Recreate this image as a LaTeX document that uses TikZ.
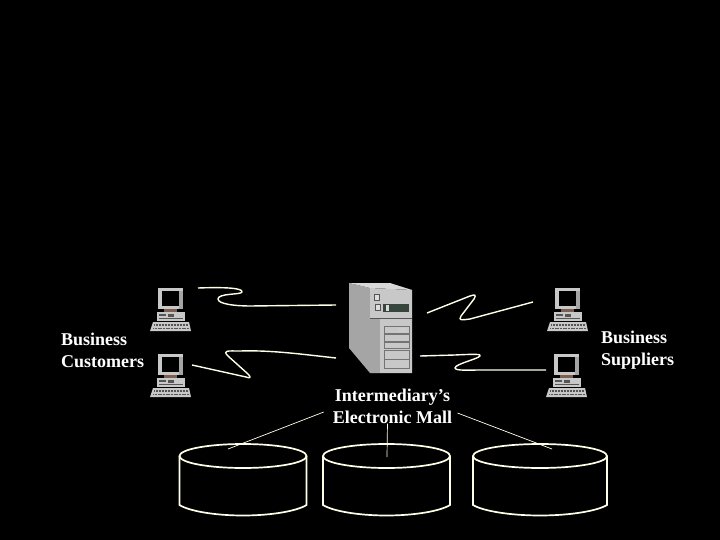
\documentclass[tikz,border=0pt]{standalone}
\usepackage{fontspec}
\setmainfont{Liberation Serif}
\usetikzlibrary{positioning,calc}

\definecolor{cream}{RGB}{255,255,232}
\definecolor{casegray}{RGB}{200,200,200}
\definecolor{sidegray}{RGB}{165,165,165}
\definecolor{darkgray}{RGB}{85,85,85}
\definecolor{standbrown}{RGB}{125,95,80}
\definecolor{paneldark}{RGB}{55,70,60}

\tikzset{
  pics/pcicon/.style={code={
    \fill[casegray] (0,0) rectangle (25,21);
    \fill[black] (4,3) rectangle (21,18);
    \fill[sidegray] (21,3) rectangle (25,21);
    \fill[standbrown] (6,21) rectangle (19,24);
    \fill[casegray] (-1,24) rectangle (27,33);
    \fill[darkgray] (1,26) rectangle (8,28);
    \fill[darkgray] (10,26) rectangle (16,29);
    \fill[darkgray] (1,30) rectangle (25,31);
    \fill[casegray] (-5,34) -- (31,34) -- (33,43) -- (-8,43) -- cycle;
    \draw[darkgray,line width=1.8pt,dash pattern=on 1pt off .5pt] (-4,37) -- (30,37);
    \draw[darkgray,line width=1.8pt,dash pattern=on 1.2pt off .4pt] (-5,40.5) -- (31,40.5);
  }},
  pics/drum/.style={code={
    \draw[rim] (0,0) ellipse ({#1} and 12);
    \draw[rim] (-#1,0) -- (-#1,49) .. controls ({-.85*#1},55) and ({-.45*#1},59.5) .. (0,59.5)
      .. controls ({.45*#1},59.5) and ({.85*#1},55) .. (#1,49) -- (#1,0);
  }},
  pics/tower/.style={code={
    \fill[sidegray] (0,0) -- (21,5) -- (21,90) -- (0,65) -- cycle;
    \fill[casegray!70!white] (0,0) -- (41,0) -- (63,7) -- (21,5) -- cycle;
    \fill[casegray] (21,5) -- (63,7) -- (63,90) -- (21,90) -- cycle;
    \fill[sidegray] (21,35) rectangle (31,90);
    \fill[paneldark] (34,21) rectangle (60,29);
    \fill[white!85!black] (37,22) rectangle (40,28);
    \draw[darkgray,fill=casegray!60!white] (25,11) rectangle (30,17);
    \draw[darkgray,fill=casegray!60!white] (26,21) rectangle (31,27);
    \draw[darkgray] (21,35) -- (63,35);
    \foreach \y/\h in {43/7,51/7,59/6,67/9,76/9}
      \draw[sidegray!70!black] (35,\y) rectangle (60,\y+\h);
    \fill[white!80!black] (49,45) rectangle (58,49);
  }}
}

\begin{document}
\begin{tikzpicture}[x=1pt,y=-1pt]
  \tikzstyle{rim}=[draw=cream,line width=1.7pt]
  \tikzstyle{wire}=[draw=cream,line width=1.4pt,line join=round]
  \tikzstyle{leader}=[draw=cream,line width=.7pt]
  \tikzstyle{label}=[text=white,font=\bfseries\fontsize{18}{22}\selectfont,align=left,inner sep=0pt]

  \fill[black] (0,0) rectangle (720,540);
  \useasboundingbox (0,0) rectangle (720,540);

  \pic (pcCustA) at (158,288) {pcicon};
  \pic (pcCustB) at (158,354) {pcicon};
  \pic (pcSuppA) at (555,288) {pcicon};
  \pic (pcSuppB) at (554,354) {pcicon};
  \pic (server) at (349,283) {tower};

  \node[label,anchor=west] (cust) at (61,350.5) {Business\\Customers};
  \node[label,anchor=west] (supp) at (601,350) {Business\\Suppliers};
  \node[label,align=center,inner xsep=9pt] (mall) at (392.5,406) {Intermediary’s\\Electronic Mall};

  \pic (drumA) at (243,456) {drum=63.5};
  \pic (drumB) at (386.5,456) {drum=63.5};
  \pic (drumC) at (540,456) {drum=67};

  % free ends of the wires
  \coordinate (custAend) at (198,288);
  \coordinate (custBend) at (192,365);
  \coordinate (suppAend) at (533,302);
  \coordinate (suppBend) at (546,370);
  \coordinate (servA) at (336,305);
  \coordinate (servB) at (336,358);
  \coordinate (servC) at (427,313);
  \coordinate (servD) at (420,356);
  \coordinate (topA) at (228,449);
  \coordinate (topB) at (387,457);
  \coordinate (topC) at (552,449);

  \draw[wire] (custAend) .. controls (225,287) and (243,288) .. (242,292)
    .. controls (241,295) and (218,293) .. (218,299)
    .. controls (218,304) and (235,306) .. (250,306) -- (servA);
  \draw[wire] (custBend) -- (246,377) .. controls (251,379) and (251,377) .. (248,374)
    -- (228,356) .. controls (222,350) and (228,351) .. (240,351)
    .. controls (270,350) and (300,354) .. (servB);
  \draw[wire] (servC) -- (470,296) .. controls (476,294) and (476,295) .. (474,299)
    -- (461,316) .. controls (458,321) and (462,320) .. (470,319) -- (suppAend);
  \draw[wire] (servD) -- (455,355) .. controls (475,354) and (482,354) .. (480,356)
    .. controls (478,359) and (455,364) .. (455,368)
    .. controls (455,371) and (470,370) .. (480,370) -- (suppBend);

  \draw[leader] (mall.185) -- (topA);
  \draw[leader] (mall.254) -- (topB);
  \draw[leader,shorten <=-4pt] (mall.353) -- (topC);
\end{tikzpicture}
\end{document}
